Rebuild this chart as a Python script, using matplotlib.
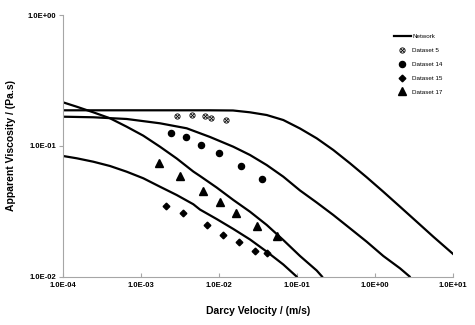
import matplotlib
matplotlib.use("Agg")
import matplotlib.pyplot as plt
from matplotlib.path import Path

plt.rcParams['font.family'] = ['Liberation Sans', 'DejaVu Sans']

# Network model curves
net_a_x = [1e-4, 6.56e-4, 7.67e-3, 0.01511, 0.02496, 0.04088, 0.06676, 0.1093, 0.1789,
           0.2920, 0.4781, 0.7828, 1.2776, 2.092, 3.424, 5.589, 10.0]
net_a_y = [0.1867, 0.1867, 0.1867, 0.1861, 0.1802, 0.1718, 0.1573, 0.1355, 0.1140,
           0.0928, 0.0734, 0.0574, 0.0445, 0.0342, 0.02625, 0.02016, 0.01489]

net_b_x = [1e-4, 2.446e-4, 6.56e-4, 1.752e-3, 3.853e-3, 7.67e-3, 0.01525, 0.02496, 0.04088,
           0.06676, 0.1093, 0.1789, 0.2920, 0.4781, 0.7828, 1.2776, 2.092, 2.777]
net_b_y = [0.1668, 0.1651, 0.1602, 0.1485, 0.1360, 0.1167, 0.0983, 0.0850, 0.0712,
           0.0580, 0.0455, 0.0368, 0.02954, 0.02336, 0.01845, 0.01435, 0.01155, 0.0100]

net_c_x = [1e-4, 1.498e-4, 2.446e-4, 4.005e-4, 6.56e-4, 1.070e-3, 1.752e-3, 2.869e-3, 4.684e-3,
           5.706e-3, 9.344e-3, 0.01525, 0.02496, 0.04088, 0.06676, 0.1093, 0.1789, 0.2092]
net_c_y = [0.2149, 0.1989, 0.1802, 0.1622, 0.1398, 0.1194, 0.0983, 0.0799, 0.0635,
           0.0587, 0.0479, 0.0385, 0.0313, 0.0248, 0.0190, 0.01435, 0.01111, 0.0100]

net_d_x = [1e-4, 1.498e-4, 2.446e-4, 4.005e-4, 6.56e-4, 1.070e-3, 1.752e-3, 2.869e-3, 4.684e-3,
           5.706e-3, 9.344e-3, 0.01525, 0.02496, 0.04088, 0.06676, 0.0986]
net_d_y = [0.0835, 0.0802, 0.0755, 0.0700, 0.0633, 0.0564, 0.0486, 0.0420, 0.0357,
           0.0325, 0.0275, 0.0231, 0.0192, 0.0155, 0.01235, 0.0100]

# Experimental datasets
ds5_x = [2.92e-3, 4.47e-3, 6.56e-3, 7.9e-3, 1.23e-2]
ds5_y = [0.168, 0.172, 0.170, 0.162, 0.158]

ds14_x = [2.44e-3, 3.81e-3, 5.93e-3, 1.01e-2, 1.93e-2, 3.56e-2]
ds14_y = [0.125, 0.116, 0.101, 0.0877, 0.0697, 0.0557]

ds15_x = [2.07e-3, 3.48e-3, 6.95e-3, 1.13e-2, 1.82e-2, 2.9e-2, 4.12e-2]
ds15_y = [0.0346, 0.0305, 0.0249, 0.0206, 0.0184, 0.0158, 0.0151]

ds17_x = [1.72e-3, 3.19e-3, 6.3e-3, 1.02e-2, 1.67e-2, 3.1e-2, 5.5e-2]
ds17_y = [0.0738, 0.0591, 0.0448, 0.0369, 0.0308, 0.0245, 0.0204]

x_ticks = [1e-4, 1e-3, 1e-2, 1e-1, 1e0, 1e1]
x_tick_labels = ["1.0E-04", "1.0E-03", "1.0E-02", "1.0E-01", "1.0E+00", "1.0E+01"]
y_ticks = [1e-2, 1e-1, 1e0]
y_tick_labels = ["1.0E-02", "1.0E-01", "1.0E+00"]

x_label = "Darcy Velocity / (m/s)"
y_label = "Apparent Viscosity / (Pa.s)"

# circle with cross marker
circ = Path.unit_circle()
s = 0.6
cross = Path([(-s, -s), (s, s), (-s, s), (s, -s)],
             [Path.MOVETO, Path.LINETO, Path.MOVETO, Path.LINETO])
circ_x = Path.make_compound_path(circ, cross)

fig = plt.figure(figsize=(4.75, 3.25), dpi=100)
ax = fig.add_axes([63/475, 1-276.5/325, (453-63)/475, (276.5-15)/325])

lw = 1.6
ax.plot(net_a_x, net_a_y, color='black', lw=lw, label='Network', solid_joinstyle='round')
ax.plot(net_b_x, net_b_y, color='black', lw=lw, solid_joinstyle='round')
ax.plot(net_c_x, net_c_y, color='black', lw=lw, solid_joinstyle='round')
ax.plot(net_d_x, net_d_y, color='black', lw=lw, solid_joinstyle='round')

ax.plot(ds5_x, ds5_y, ls='none', marker=circ_x, ms=3.8, mfc='white', mec='black', mew=0.6, label='Dataset 5')
ax.plot(ds14_x, ds14_y, ls='none', marker='o', ms=4.4, color='black', label='Dataset 14')
ax.plot(ds15_x, ds15_y, ls='none', marker='D', ms=3.4, color='black', label='Dataset 15')
ax.plot(ds17_x, ds17_y, ls='none', marker='^', ms=5.2, color='black', label='Dataset 17')

ax.set_xscale('log')
ax.set_yscale('log')
ax.set_xlim(1e-4, 1e1)
ax.set_ylim(1e-2, 1e0)
ax.set_xticks(x_ticks)
ax.set_xticklabels(x_tick_labels)
ax.set_yticks(y_ticks)
ax.set_yticklabels(y_tick_labels)
ax.minorticks_off()

for sp in ['top', 'right']:
    ax.spines[sp].set_visible(False)
for sp in ['left', 'bottom']:
    ax.spines[sp].set_color('#a6a6a6')
    ax.spines[sp].set_linewidth(0.8)

ax.tick_params(axis='x', direction='in', length=3, color='#a6a6a6', labelsize=5.5, pad=4)
ax.tick_params(axis='y', direction='out', length=3, color='#a6a6a6', labelsize=5.5, pad=2)
for t in ax.get_xticklabels() + ax.get_yticklabels():
    t.set_fontweight('bold')

ax.set_xlabel(x_label, fontsize=7.5, fontweight='bold', labelpad=12)
ax.set_ylabel(y_label, fontsize=7.5, fontweight='bold', labelpad=8)

leg = ax.legend(loc='upper left', bbox_to_anchor=(331/390, 1 - 19/261.5), frameon=False,
                fontsize=4.5, handlelength=2.7, handletextpad=0.2, labelspacing=1.35,
                borderaxespad=0, borderpad=0)

fig.savefig('out.png', dpi=100)
